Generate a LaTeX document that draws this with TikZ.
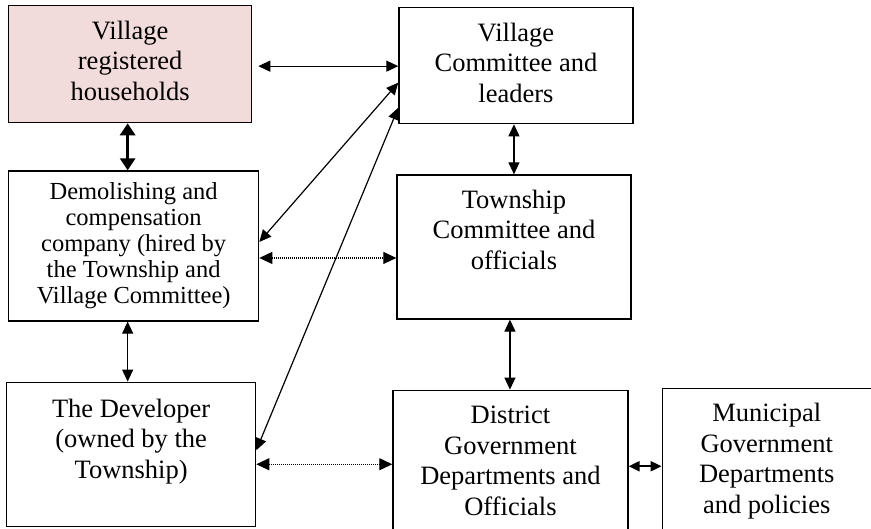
\documentclass[tikz,border=0pt]{standalone}
\usepackage{fontspec}
\setmainfont{Liberation Serif}
\usetikzlibrary{positioning,arrows.meta}
\definecolor{hhpink}{RGB}{242,220,219}
% fixed-size box, text set from the top
\newcommand{\boxtext}[4][33.5pt]{\parbox[c][#3][t]{#2}{\centering\rule{0pt}{#1}#4}}

\begin{document}
\begin{tikzpicture}[x=1pt,y=1pt,
cellbox/.style={rectangle, draw=black, line width=1.3pt, inner sep=0pt, font=\fontsize{26.5}{30.5}\selectfont},
link/.style={{Triangle[length=12pt,width=11pt]}-{Triangle[length=12pt,width=11pt]}, line width=1.2pt},
thicklink/.style={{Triangle[length=12pt,width=15pt]}-{Triangle[length=12pt,width=15pt]}, line width=3.5pt},
dotlink/.style={{Triangle[length=13pt,width=12pt]}-{Triangle[length=13pt,width=12pt]}, line width=1.1pt, dash pattern=on 1pt off 1pt},
shortlink/.style={{Triangle[length=11pt,width=10pt]}-{Triangle[length=11pt,width=10pt]}, line width=2pt},
]
\useasboundingbox (0,0) rectangle (871,-528);
%Nodes
\node[cellbox, fill=hhpink, anchor=north west] (households) at (8,-5) {\boxtext{243pt}{117pt}{Village\\registered\\households}};
\node[cellbox, right=146pt of households.north east, anchor=north west, yshift=-2pt] (village) {\boxtext{234pt}{116pt}{Village\\Committee and\\leaders}};
\node[cellbox, below=47pt of households.south west, anchor=north west, font=\fontsize{24.5}{26}\selectfont] (demolish) {\boxtext[28.7pt]{250pt}{150pt}{Demolishing and\\compensation\\company (hired by\\the Township and\\Village Committee)}};
\node[cellbox, below=50pt of village.south west, anchor=north west, xshift=-2pt] (township) {\boxtext{234pt}{144pt}{Township\\Committee and\\officials}};
\node[cellbox, below=60pt of demolish.south west, anchor=north west, xshift=-2pt] (developer) {\boxtext[35pt]{249pt}{144pt}{The Developer\\(owned by the\\Township)}};
\node[cellbox, below=70pt of township.south west, anchor=north west, xshift=-4pt] (district) {\boxtext{235pt}{140pt}{District\\Government\\Departments and\\Officials}};
\node[cellbox, right=33pt of district.north east, anchor=north west, yshift=2pt] (municipal) {\boxtext{209pt}{142pt}{Municipal\\Government\\Departments\\and policies}};

%Lines
\draw[link, shorten <=6pt] ([yshift=-2pt]households.east) -- ([yshift=-2pt]households.east -| village.west);
\draw[thicklink] ([xshift=-2.5pt]households.south) -- ([xshift=-2.5pt]households.south |- demolish.north);
\draw[link] ([xshift=-2pt]village.south) -- ([xshift=-2pt]village.south |- township.north);
\draw[link] ([xshift=-6pt]demolish.south) -- ([xshift=-6pt]demolish.south |- developer.north);
\draw[link] ([xshift=-4pt]township.south) -- ([xshift=-4pt]township.south |- district.north);
\draw[dotlink] ([yshift=-12pt]demolish.east) -- ([yshift=-12pt]demolish.east -| township.west);
\draw[dotlink] ([yshift=-10pt]developer.east) -- ([yshift=-10pt]developer.east -| district.west);
\draw[shortlink] ([yshift=-6pt]district.east) -- ([yshift=-6pt]district.east -| municipal.west);
\draw[link] ([yshift=4pt]demolish.east) -- ([yshift=-17pt]village.west);
\draw[link] ([yshift=4pt]developer.east) -- ([yshift=-42pt]village.west);

\end{tikzpicture}
\end{document}
